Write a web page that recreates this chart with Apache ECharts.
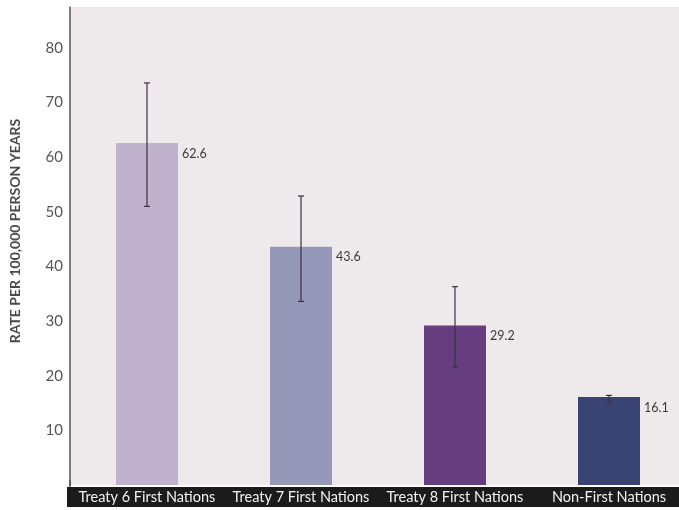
<!DOCTYPE html>
<html>
<head>
<meta charset="utf-8">
<script src="https://cdn.jsdelivr.net/npm/echarts@6/dist/echarts.min.js"></script>
<style>html,body{margin:0;padding:0;background:#fff;}#c{width:679px;height:510px;}</style>
</head>
<body>
<div id="c"></div>
<script>
var categories = ['Treaty 6 First Nations', 'Treaty 7 First Nations', 'Treaty 8 First Nations', 'Non-First Nations'];
var rates = [62.6, 43.6, 29.2, 16.1];
var ciLow = [51.0, 33.6, 21.6, 15.2];
var ciHigh = [73.6, 52.9, 36.3, 16.4];
var barColors = ['#c0b1cd', '#9598b8', '#663e7f', '#3a4474'];
var yTicks = [10, 20, 30, 40, 50, 60, 70, 80];

var chart = echarts.init(document.getElementById('c'), null, {renderer: 'canvas'});
var font = 'Lato, "Noto Sans", sans-serif';
chart.setOption({
  animation: false,
  backgroundColor: '#ffffff',
  grid: {left: 70, top: 7, width: 616, height: 478, show: true, backgroundColor: '#eeeaeb', borderWidth: 0, outerBoundsMode: 'none', containLabel: false},
  graphic: [
    {type: 'rect', z: 0, silent: true, shape: {x: 67, y: 487, width: 612, height: 20}, style: {fill: '#1c1b1c'}},
    {type: 'rect', z: 0, silent: true, shape: {x: 69.25, y: 480, width: 1.5, height: 7}, style: {fill: '#555'}}
  ],
  xAxis: {
    type: 'category',
    data: categories,
    z: 20,
    axisLine: {show: false},
    axisTick: {show: false},
    axisLabel: {interval: 0, color: '#f2f2f2', fontSize: 14.5, fontFamily: font, margin: 5, verticalAlign: 'top'}
  },
  yAxis: {
    type: 'value',
    min: 0, max: 87.5, interval: 10,
    name: 'RATE PER 100,000 PERSON YEARS',
    nameLocation: 'middle',
    nameGap: 48,
    nameTextStyle: {color: '#4a4a4a', fontSize: 14, fontWeight: 'bold', fontFamily: font, padding: [0, 0, 0, 30]},
    axisLine: {show: true, lineStyle: {color: '#555', width: 1.5}},
    axisTick: {show: false},
    splitLine: {show: false},
    axisLabel: {
      color: '#555', fontSize: 15, fontFamily: font, margin: 7,
      formatter: function (v) { return yTicks.indexOf(v) >= 0 ? String(v) : ''; }
    }
  },
  series: [
    {
      type: 'bar',
      barWidth: 62,
      data: rates.map(function (v, i) { return {value: v, itemStyle: {color: barColors[i]}}; }),
      label: {
        show: true, position: [66, 4], align: 'left', verticalAlign: 'top',
        color: '#3a3a3a', fontSize: 12.5, fontFamily: font,
        formatter: function (p) { return p.value.toFixed(1); }
      }
    },
    {
      type: 'custom',
      data: categories.map(function (c, i) { return [i, ciLow[i], ciHigh[i]]; }),
      z: 5,
      renderItem: function (params, api) {
        var lo = api.coord([api.value(0), api.value(1)]);
        var hi = api.coord([api.value(0), api.value(2)]);
        var hw = 3;
        var st = {stroke: '#3b3040', lineWidth: 1.2};
        return {
          type: 'group',
          children: [
            {type: 'line', shape: {x1: lo[0], y1: lo[1], x2: hi[0], y2: hi[1]}, style: st},
            {type: 'line', shape: {x1: lo[0] - hw, y1: lo[1], x2: lo[0] + hw, y2: lo[1]}, style: st},
            {type: 'line', shape: {x1: hi[0] - hw, y1: hi[1], x2: hi[0] + hw, y2: hi[1]}, style: st}
          ]
        };
      }
    }
  ]
});
</script>
</body>
</html>
